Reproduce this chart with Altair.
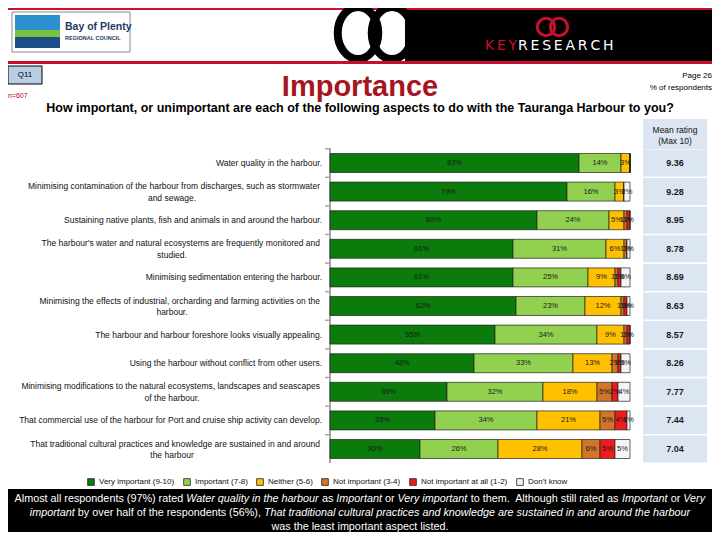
import altair as alt
import pandas as pd

# ---------------- data ----------------
categories = [
    "Water quality in the harbour.",
    "Minimising contamination of the harbour from discharges, such as stormwater|and sewage.",
    "Sustaining native plants, fish and animals in and around the harbour.",
    "The harbour's water and natural ecosystems are frequently monitored and|studied.",
    "Minimising sedimentation entering the harbour.",
    "Minimising the effects of industrial, orcharding and farming activities on the|harbour.",
    "The harbour and harbour foreshore looks visually appealing.",
    "Using the harbour without conflict from other users.",
    "Minimising modifications to the natural ecosystems, landscapes and seascapes|of the harbour.",
    "That commercial use of the harbour for Port and cruise ship activity can develop.",
    "That traditional cultural practices and knowledge are sustained in and around|the harbour",
]
series = ["Very important (9-10)", "Important (7-8)", "Neither (5-6)",
          "Not important (3-4)", "Not important at all (1-2)", "Don't know"]
very_important = [83, 79, 69, 61, 61, 62, 55, 48, 39, 35, 30]
important = [14, 16, 24, 31, 25, 23, 34, 33, 32, 34, 26]
neither = [3, 3, 5, 6, 9, 12, 9, 13, 18, 21, 28]
not_important = [0, 0, 1, 1, 1, 1, 1, 2, 5, 5, 6]
not_at_all = [0, 0, 1, 0, 1, 1, 1, 1, 2, 4, 5]
dont_know = [0, 2, 0, 1, 3, 1, 0, 3, 4, 1, 5]
mean_rating = [9.36, 9.28, 8.95, 8.78, 8.69, 8.63, 8.57, 8.26, 7.77, 7.44, 7.04]

colors = ["#0b7b0b", "#92d050", "#ffc000", "#d2742a", "#ee1c1c", "#f4f4f4"]

# footer commentary: (text, italic) segments per line
footer_lines = [
    [("Almost all respondents (97%) rated ", False), ("Water quality in the harbour", True),
     (" as ", False), ("Important", True), (" or ", False), ("Very important", True),
     (" to them.\u00a0 Although still rated as ", False), ("Important", True), (" or ", False),
     ("Very", True)],
    [("important", True), (" by over half of the respondents (56%), ", False),
     ("That traditional cultural practices and knowledge are sustained in and around the harbour", True)],
    [("was the least important aspect listed.", False)],
]

FONT = "Liberation Sans"
NARROW = "Liberation Sans Narrow, Liberation Sans"

# Arial / Liberation Sans advance widths (1/1000 em) used to lay out mixed-style footer text
ADV = {" ": 278, "\u00a0": 278, "a": 556, "b": 556, "c": 500, "d": 556, "e": 556, "f": 278,
       "g": 556, "h": 556, "i": 222, "j": 222, "k": 500, "l": 222, "m": 833, "n": 556, "o": 556,
       "p": 556, "q": 556, "r": 333, "s": 500, "t": 278, "u": 556, "v": 500, "w": 722, "x": 500,
       "y": 500, "z": 500, "A": 667, "I": 278, "T": 611, "V": 667, "W": 944, "(": 333, ")": 333,
       "%": 889, ".": 278, ",": 278}


def text_width(s, size):
    return sum(ADV.get(ch, 556) for ch in s) * size / 1000.0


# ---------------- tables ----------------
cat_keys = [c.replace("|", " ") for c in categories]
values = [very_important, important, neither, not_important, not_at_all, dont_know]
rows = []
for i, key in enumerate(cat_keys):
    start = 0
    for s, name in enumerate(series):
        v = values[s][i]
        rows.append(dict(cat=key, series=name, order=s, value=v, start=start,
                         end=start + v, mid=start + v / 2,
                         label=f"{v}%" if v > 0 else ""))
        start += v
bars = pd.DataFrame(rows)

lab_rows = []
for c, key in zip(categories, cat_keys):
    parts = c.split("|")
    lab_rows.append(dict(cat=key, line1=parts[0], line2=parts[1] if len(parts) > 1 else "",
                         two=len(parts) > 1))
labs = pd.DataFrame(lab_rows)
means = pd.DataFrame(dict(cat=cat_keys, mean=[f"{m:.2f}" for m in mean_rating]))
one = pd.DataFrame({"a": [0]})

O = 8  # page margin offset


def P(v):
    return v - O


yscale = alt.Scale(domain=cat_keys, range=[P(148.7), P(463.3)], paddingInner=0.336, paddingOuter=0.168)
Y = alt.Y("cat:N", sort=cat_keys, scale=yscale, axis=None)
xscale = alt.Scale(domain=[0, 100], range=[P(330), P(630)], nice=False, zero=False)


def txt(s, x, y, size, color="black", weight="normal", align="left", font=FONT, style="normal"):
    return alt.Chart(one).mark_text(text=s, align=align, baseline="middle", fontSize=size,
                                    color=color, fontWeight=weight, font=font, fontStyle=style
                                    ).encode(x=alt.value(P(x)), y=alt.value(P(y)))


def rect(x1, x2, y1, y2, fill, stroke=None, sw=0):
    kw = dict(fill=fill)
    if stroke:
        kw.update(stroke=stroke, strokeWidth=sw)
    return alt.Chart(one).mark_rect(**kw).encode(
        x=alt.value(P(x1)), x2=alt.value(P(x2)), y=alt.value(P(y1)), y2=alt.value(P(y2)))


def ring(x, y, size, color, sw, shape="circle"):
    return alt.Chart(one).mark_point(shape=shape, size=size, filled=False, stroke=color,
                                     strokeWidth=sw, opacity=1).encode(
        x=alt.value(P(x)), y=alt.value(P(y)))


ellipse = "M -0.78 0 A 0.78 1 0 1 0 0.78 0 A 0.78 1 0 1 0 -0.78 0 Z"
thin = "\u2009"

# ---------------- header ----------------
header = [
    rect(8, 720, 8, 10, "#d0102a"),
    rect(12, 130, 12, 52, "#ffffff", "#8a8a8a", 1),
    rect(15, 60, 15, 32, "#2c8fd0"),
    rect(15, 60, 30, 37, "#7cc242"),
    rect(15, 60, 37, 48, "#1c4d86"),
    txt("Bay of Plenty", 65, 27, 10.5, "#223a66", "bold"),
    txt("REGIONAL COUNCIL", 65, 38, 5.5, "#223a66", "bold"),
    rect(405, 720, 10, 61, "#000000"),
    ring(358, 33, 2700, "#000000", 8, ellipse),
    ring(392, 33, 2700, "#000000", 8, ellipse),
    ring(546, 27, 300, "#c8102e", 3),
    ring(559, 27, 300, "#c8102e", 3),
    txt(thin.join("KEY"), 485, 46, 14, "#c8102e", "normal", font="DejaVu Sans"),
    txt(thin.join("RESEARCH"), 518, 46, 14, "#ffffff", "normal", font="DejaVu Sans"),
    rect(8, 720, 61, 64, "#c8102e"),
    rect(8, 42, 66, 84, "#b9cde5", "#000000", 1),
    txt("Q11", 25, 75, 8, "#000000", align="center"),
    txt("n=607", 8, 96, 7, "#c00000"),
    txt("Importance", 360, 87, 29, "#a5161f", "bold", align="center", font=NARROW),
    txt("Page 26", 712, 76, 8, "#000000", align="right", font=NARROW),
    txt("% of respondents", 712, 88, 8, "#000000", align="right", font=NARROW),
    txt("How important, or unimportant are each of the following aspects to do with the Tauranga Harbour to you?",
        360, 108, 12.5, "#000000", "bold", align="center", font=NARROW),
]

# ---------------- mean rating column ----------------
mean_header = [
    rect(643, 707, 119, 149, "#dce6f2"),
    txt("Mean rating", 675, 130, 8.5, "#111111", align="center"),
    txt("(Max 10)", 675, 141, 8.5, "#111111", align="center"),
]
mean_cells = alt.Chart(means).mark_bar(height=27, color="#dce6f2").encode(
    y=Y, x=alt.value(P(643)), x2=alt.value(P(707)))
mean_text = alt.Chart(means).mark_text(fontSize=9, fontWeight="bold", color="#1a1a1a", font=FONT).encode(
    y=Y, x=alt.value(P(675)), text="mean:N")

# ---------------- bars ----------------
bar_layer = alt.Chart(bars).mark_bar(stroke="#222222", strokeWidth=0.7).encode(
    y=Y,
    x=alt.X("start:Q", scale=xscale, axis=None),
    x2="end:Q",
    order=alt.Order("order:Q"),
    color=alt.Color("series:N", sort=series,
                    scale=alt.Scale(domain=series, range=colors),
                    legend=alt.Legend(title=None, orient="none", legendX=P(87), legendY=P(478),
                                      direction="horizontal", symbolType="square", symbolSize=45,
                                      symbolStrokeColor="#222222", symbolStrokeWidth=0.8,
                                      labelFontSize=8, labelFont=FONT, labelColor="#111111",
                                      columnPadding=7, symbolOffset=0)),
)
bar_text = alt.Chart(bars).mark_text(fontSize=7.5, color="#1a1a1a", font=FONT).encode(
    y=Y, x=alt.X("mid:Q", scale=xscale, axis=None), text="label:N")

axis_line = rect(329, 331, 148, 463, "#a6a6a6")
ticks = alt.Chart(labs).mark_rule(color="#a6a6a6", strokeWidth=1.5, yOffset=-4.8).encode(
    y=alt.Y("cat:N", sort=cat_keys, scale=yscale, axis=None, bandPosition=0),
    x=alt.value(P(325)), x2=alt.value(P(330)))

LS = 8.5
lab_single = alt.Chart(labs).transform_filter("!datum.two").mark_text(
    align="right", fontSize=LS, font=FONT, color="#111111").encode(
    y=Y, x=alt.value(P(322)), text="line1:N")
lab_l1 = alt.Chart(labs).transform_filter("datum.two").mark_text(
    align="right", fontSize=LS, font=FONT, color="#111111", dy=-5.5).encode(
    y=Y, x=alt.value(P(320)), text="line1:N")
lab_l2 = alt.Chart(labs).transform_filter("datum.two").mark_text(
    align="center", fontSize=LS, font=FONT, color="#111111", dy=6).encode(
    y=Y, x=alt.value(P(172)), text="line2:N")

# ---------------- footer ----------------
FS = 10.8
footer = [rect(8, 720, 489, 540, "#000000")]
for li, (segs, yy) in enumerate(zip(footer_lines, [499, 513, 527])):
    total = sum(text_width(t, FS) for t, _ in segs)
    xpos = 360 - total / 2
    for t, ital in segs:
        stripped = t.strip(" ")
        lead = len(t) - len(t.lstrip(" "))
        xs = xpos + text_width(t[:lead], FS)
        footer.append(txt(stripped, xs, yy, FS, "#ffffff", font=FONT,
                          style="italic" if ital else "normal"))
        xpos += text_width(t, FS)

chart = alt.layer(
    *header, *mean_header, mean_cells, mean_text, axis_line, ticks,
    bar_layer, bar_text, lab_single, lab_l1, lab_l2, *footer
).properties(
    width=704, height=524, padding=0,
    autosize=alt.AutoSizeParams(type="none"),
    background="white",
).configure_view(stroke=None)

chart.save("out.html", embed_options={"renderer": "svg", "actions": False})
